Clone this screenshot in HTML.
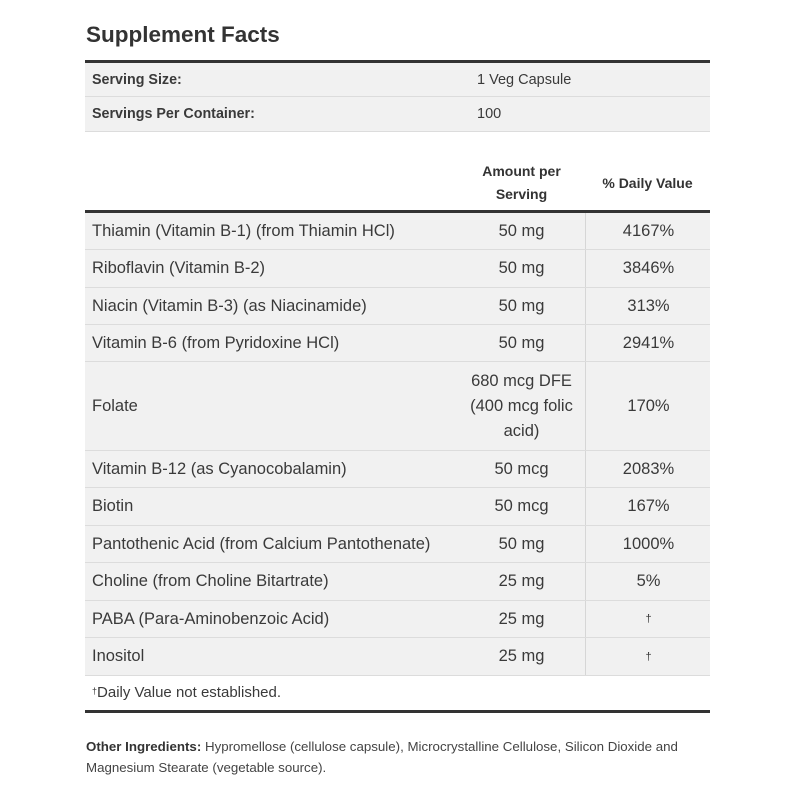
<!DOCTYPE html>
<html><head><meta charset="utf-8"><style>
body{margin:0;background:#fff;font-family:"Liberation Sans",sans-serif;color:#333;}
.t{position:absolute;left:86px;top:22px;font-size:22.5px;font-weight:600;color:#333;}
.box{position:absolute;left:85px;width:625px}
.row{position:absolute;left:0;width:625px;background:#f1f1f1;border-bottom:1px solid #dcdcdc;box-sizing:border-box}
.c{position:absolute;top:0;height:100%;display:flex;align-items:center;font-size:16.5px;color:#3a3a3a}
.n{left:7px}
.a{left:373px;width:127px;justify-content:center;text-align:center;line-height:25px}
.d{left:500px;width:125px;justify-content:center;border-left:1px solid #d6d6d6;height:100%}
.line{position:absolute;left:85px;width:625px;height:3px;background:#333}
</style></head><body>
<div class="t">Supplement Facts</div>
<div class="line" style="top:60px"></div>
<div class="box" style="top:63px">
<div class="row" style="top:0;height:34px"><div class="c n" style="font-weight:bold;font-size:14.3px">Serving Size:</div><div class="c" style="left:392px;font-size:14.5px">1 Veg Capsule</div></div>
<div class="row" style="top:34px;height:35px"><div class="c n" style="font-weight:bold;font-size:14.3px">Servings Per Container:</div><div class="c" style="left:392px;font-size:14.5px">100</div></div>
<div style="position:absolute;top:93px;left:373px;width:127px;height:53px;display:flex;align-items:center;justify-content:center;text-align:center;font-weight:bold;font-size:14px;line-height:23px;color:#333">Amount per<br>Serving</div>
<div style="position:absolute;top:93px;left:500px;width:125px;height:53px;display:flex;align-items:center;justify-content:center;font-weight:bold;font-size:14px;color:#333">% Daily Value</div>
</div>
<div class="line" style="top:210px"></div>
<div class="box" style="top:213px">
<div class="row" style="top:0;height:37px"><div class="c n">Thiamin (Vitamin B-1) (from Thiamin HCl)</div><div class="c a">50 mg</div><div class="c d">4167%</div></div>
<div class="row" style="top:37px;height:38px"><div class="c n">Riboflavin (Vitamin B-2)</div><div class="c a">50 mg</div><div class="c d">3846%</div></div>
<div class="row" style="top:75px;height:37px"><div class="c n">Niacin (Vitamin B-3) (as Niacinamide)</div><div class="c a">50 mg</div><div class="c d">313%</div></div>
<div class="row" style="top:112px;height:37px"><div class="c n">Vitamin B-6 (from Pyridoxine HCl)</div><div class="c a">50 mg</div><div class="c d">2941%</div></div>
<div class="row" style="top:149px;height:89px"><div class="c n">Folate</div><div class="c a">680 mcg DFE<br>(400 mcg folic<br>acid)</div><div class="c d">170%</div></div>
<div class="row" style="top:238px;height:37px"><div class="c n">Vitamin B-12 (as Cyanocobalamin)</div><div class="c a">50 mcg</div><div class="c d">2083%</div></div>
<div class="row" style="top:275px;height:38px"><div class="c n">Biotin</div><div class="c a">50 mcg</div><div class="c d">167%</div></div>
<div class="row" style="top:313px;height:37px"><div class="c n">Pantothenic Acid (from Calcium Pantothenate)</div><div class="c a">50 mg</div><div class="c d">1000%</div></div>
<div class="row" style="top:350px;height:38px"><div class="c n">Choline (from Choline Bitartrate)</div><div class="c a">25 mg</div><div class="c d">5%</div></div>
<div class="row" style="top:388px;height:37px"><div class="c n">PABA (Para-Aminobenzoic Acid)</div><div class="c a">25 mg</div><div class="c d" style="font-size:11px">†</div></div>
<div class="row" style="top:425px;height:38px"><div class="c n">Inositol</div><div class="c a">25 mg</div><div class="c d" style="font-size:11px">†</div></div>
<div style="position:absolute;top:471px;left:7px;font-size:15px;color:#3a3a3a"><span style="font-size:9px;vertical-align:3px">†</span>Daily Value not established.</div>
</div>
<div class="line" style="top:710px"></div>
<div style="position:absolute;left:86px;top:736px;width:625px;font-size:13.3px;line-height:21px;color:#444"><b style="color:#333">Other Ingredients:</b> Hypromellose (cellulose capsule), Microcrystalline Cellulose, Silicon Dioxide and Magnesium Stearate (vegetable source).</div>
</body></html>
